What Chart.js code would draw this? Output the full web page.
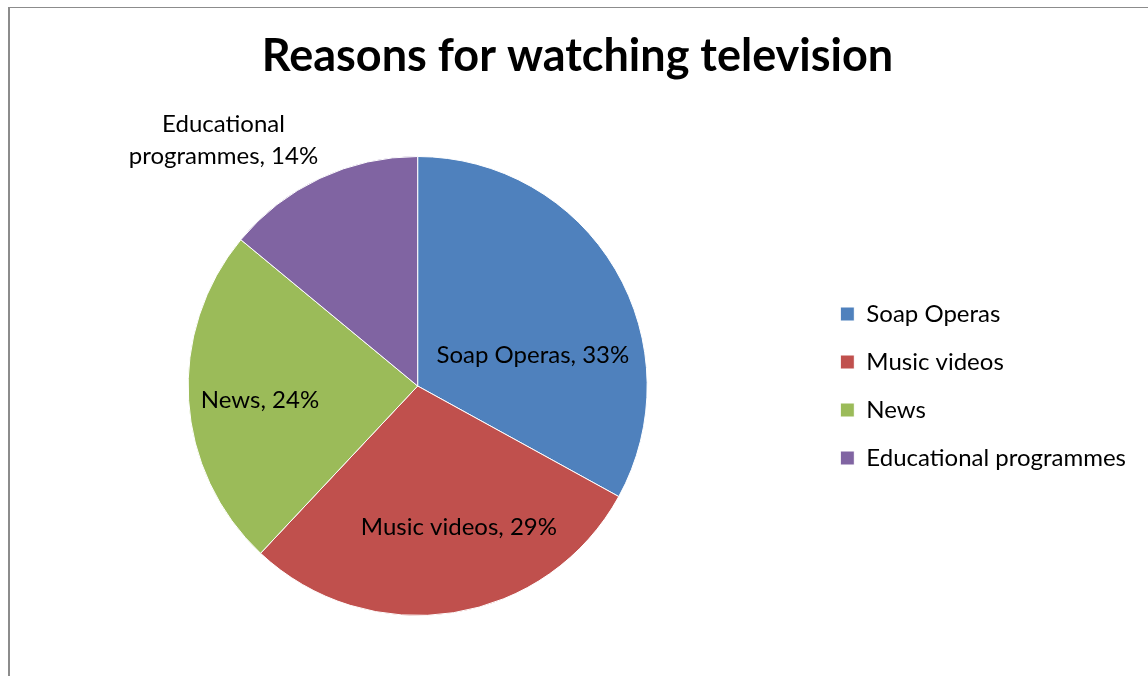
<!DOCTYPE html>
<html>
<head>
<meta charset="utf-8">
<title>Reasons for watching television</title>
<script src="https://cdn.jsdelivr.net/npm/chart.js@4"></script>
<style>
    html, body { margin: 0; padding: 0; background: #fff; }
    #wrap { position: relative; width: 1148px; height: 676px; }
    #frame {
        position: absolute; left: 8px; top: 7px; right: -2px; bottom: -2px;
        border-left: 2px solid #8c8c8c; border-top: 1px solid #8c8c8c;
        pointer-events: none;
    }
</style>
</head>
<body>
<div id="wrap">
    <canvas id="tvChart" width="1148" height="676"></canvas>
    <div id="frame"></div>
</div>
<script>
var categories = ['Soap Operas', 'Music videos', 'News', 'Educational programmes'];
var shares = [33, 29, 24, 14];
var sliceColors = ['#4F81BD', '#C0504D', '#9BBB59', '#8064A2'];

// where each slice label sits: [position along the slice angle, fraction of radius]
var labelPlace = [[0.63, 0.52], [0.43, 0.64], [0.48, 0.69], [0.24, 1.365]];

var FONT = 'Lato, "Open Sans", sans-serif';

function labelLines(i) {
    var txt = categories[i] + ', ' + shares[i] + '%';
    // the outside label wraps after the first word
    if (labelPlace[i][1] > 1) {
        var sp = txt.indexOf(' ');
        return [txt.slice(0, sp), txt.slice(sp + 1)];
    }
    return [txt];
}

var sliceLabels = {
    id: 'sliceLabels',
    afterDatasetsDraw: function(chart) {
        var ctx = chart.ctx;
        var arcs = chart.getDatasetMeta(0).data;
        ctx.save();
        ctx.font = '24px ' + FONT;
        ctx.fillStyle = '#000';
        ctx.textAlign = 'center';
        ctx.textBaseline = 'middle';
        arcs.forEach(function(arc, i) {
            var p = arc.getProps(['x', 'y', 'startAngle', 'endAngle', 'outerRadius'], true);
            var a = p.startAngle + (p.endAngle - p.startAngle) * labelPlace[i][0];
            var r = p.outerRadius * labelPlace[i][1];
            var cx = p.x + Math.cos(a) * r;
            var cy = p.y + Math.sin(a) * r;
            var lines = labelLines(i);
            var lh = 32;
            lines.forEach(function(line, k) {
                ctx.fillText(line, cx, cy + (k - (lines.length - 1) / 2) * lh);
            });
        });
        ctx.restore();
    }
};

new Chart(document.getElementById('tvChart'), {
    type: 'pie',
    data: {
        labels: categories,
        datasets: [{
            data: shares,
            backgroundColor: sliceColors,
            borderColor: '#ffffff',
            borderWidth: 1
        }]
    },
    options: {
        responsive: false,
        animation: false,
        layout: { padding: { top: 0, bottom: 60, left: 19, right: 12 } },
        plugins: {
            title: {
                display: true,
                text: 'Reasons for watching television',
                color: '#000',
                font: { family: FONT, size: 45, weight: 'bold' },
                padding: { top: 29, bottom: 73 }
            },
            legend: {
                position: 'right',
                fullSize: false,
                labels: {
                    color: '#000',
                    font: { family: FONT, size: 24 },
                    boxWidth: 14,
                    boxHeight: 14,
                    padding: 24
                }
            },
            tooltip: { enabled: false }
        }
    },
    plugins: [sliceLabels]
});
</script>
</body>
</html>
